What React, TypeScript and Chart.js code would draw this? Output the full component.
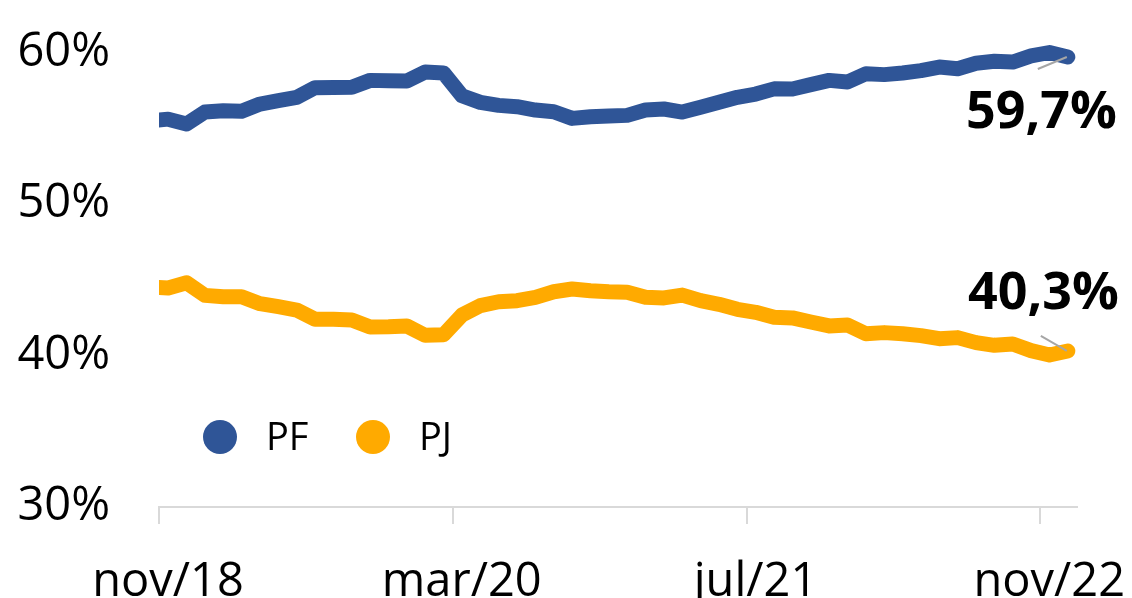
import React, { useEffect, useRef } from 'react';
import { Chart, registerables } from 'chart.js';

Chart.register(...registerables);

const months = [
  'oct/18', 'nov/18', 'dec/18',
  'jan/19', 'feb/19', 'mar/19', 'apr/19', 'may/19', 'jun/19', 'jul/19', 'aug/19', 'sep/19', 'oct/19', 'nov/19', 'dec/19',
  'jan/20', 'feb/20', 'mar/20', 'apr/20', 'may/20', 'jun/20', 'jul/20', 'aug/20', 'sep/20', 'oct/20', 'nov/20', 'dec/20',
  'jan/21', 'feb/21', 'mar/21', 'apr/21', 'may/21', 'jun/21', 'jul/21', 'aug/21', 'sep/21', 'oct/21', 'nov/21', 'dec/21',
  'jan/22', 'feb/22', 'mar/22', 'apr/22', 'may/22', 'jun/22', 'jul/22', 'aug/22', 'sep/22', 'oct/22', 'nov/22', 'dec/22',
];

const pfValues = [
  55.48, 55.6, 55.28,
  56.07, 56.16, 56.12, 56.6, 56.82, 57.04, 57.68, 57.69, 57.7, 58.16, 58.14, 58.12,
  58.71, 58.65, 57.15, 56.71, 56.51, 56.42, 56.2, 56.09, 55.65, 55.76, 55.81, 55.85,
  56.2, 56.27, 56.07, 56.38, 56.71, 57.04, 57.26, 57.6, 57.59, 57.88, 58.16, 58.05,
  58.6, 58.54, 58.65, 58.8, 59.04, 58.93, 59.29, 59.42, 59.37, 59.77, 60.0, 59.7,
];

const pjValues = [
  44.52, 44.46, 44.8,
  43.97, 43.88, 43.88, 43.42, 43.22, 43.0, 42.39, 42.4, 42.34, 41.88, 41.9, 41.95,
  41.33, 41.37, 42.67, 43.29, 43.55, 43.62, 43.84, 44.21, 44.39, 44.28, 44.21, 44.17,
  43.84, 43.8, 43.99, 43.62, 43.38, 43.05, 42.85, 42.52, 42.48, 42.21, 41.95, 42.01,
  41.44, 41.51, 41.44, 41.31, 41.11, 41.18, 40.85, 40.67, 40.76, 40.32, 40.03, 40.3,
];

const seriesNames = ['PF', 'PJ'];
const seriesColors = ['#2F5597', '#FFAA00'];
const xTickLabels = ['nov/18', 'mar/20', 'jul/21', 'nov/22'];
const lastValueLabels = ['59,7%', '40,3%'];

const FONT = "'Open Sans', 'Noto Sans', 'Liberation Sans', sans-serif";

// tick positions = start of the month band of each labelled month
const xTickValues = xTickLabels.map((lab) => months.indexOf(lab) - 0.5);

const overlayPlugin = {
  id: 'overlay',
  afterDatasetsDraw(chart: any) {
    const ctx = chart.ctx;
    const xs = chart.scales.x;
    const ys = chart.scales.y;
    const lastIdx = months.length - 1;
    const px = xs.getPixelForValue(lastIdx);
    const pyPF = ys.getPixelForValue(pfValues[lastIdx]);
    const pyPJ = ys.getPixelForValue(pjValues[lastIdx]);
    ctx.save();
    // leader lines
    ctx.strokeStyle = '#A6A6A6';
    ctx.lineWidth = 2;
    ctx.beginPath();
    ctx.moveTo(px - 30, pyPF + 12);
    ctx.lineTo(px - 1, pyPF);
    ctx.moveTo(px - 27, pyPJ - 15);
    ctx.lineTo(px - 1, pyPJ);
    ctx.stroke();
    // value labels
    ctx.fillStyle = '#000';
    ctx.font = `bold 52px ${FONT}`;
    ctx.textAlign = 'right';
    ctx.textBaseline = 'alphabetic';
    ctx.fillText(lastValueLabels[0], px + 49, pyPF + 71);
    ctx.fillText(lastValueLabels[1], px + 51, pyPJ - 42);
    // legend
    const legendY = 437;
    const items = [
      { cx: 220, tx: 266 },
      { cx: 373, tx: 419 },
    ];
    ctx.font = `38px ${FONT}`;
    ctx.textAlign = 'left';
    ctx.textBaseline = 'middle';
    items.forEach((it, i) => {
      ctx.fillStyle = seriesColors[i];
      ctx.beginPath();
      ctx.arc(it.cx, legendY, 17, 0, Math.PI * 2);
      ctx.fill();
      ctx.fillStyle = '#000';
      ctx.fillText(seriesNames[i], it.tx, legendY + 2);
    });
    ctx.restore();
  },
};

export default function App() {
  const canvasRef = useRef<HTMLCanvasElement | null>(null);

  useEffect(() => {
    if (!canvasRef.current) return;
    const mk = (vals: number[]) => vals.map((v, i) => ({ x: i, y: v }));
    const lineStyle = {
      borderWidth: 15,
      pointRadius: 0,
      tension: 0,
      borderJoinStyle: 'round',
      borderCapStyle: 'round',
      clip: { left: 0, top: false, right: false, bottom: false },
    };
    const chart = new Chart(canvasRef.current, {
      type: 'line',
      data: {
        datasets: [
          {
            label: seriesNames[0],
            data: mk(pfValues),
            borderColor: seriesColors[0],
            backgroundColor: seriesColors[0],
            ...lineStyle,
          } as any,
          {
            label: seriesNames[1],
            data: mk(pjValues),
            borderColor: seriesColors[1],
            backgroundColor: seriesColors[1],
            ...lineStyle,
          } as any,
        ],
      },
      options: {
        responsive: false,
        animation: false,
        layout: { padding: { top: 52.5, right: 55, left: 0, bottom: 0 } },
        plugins: {
          legend: { display: false },
          tooltip: { enabled: false },
        },
        scales: {
          x: {
            type: 'linear',
            min: 0.5,
            max: months.length - 0.5,
            afterBuildTicks: (scale: any) => {
              scale.ticks = xTickValues.map((v) => ({ value: v }));
            },
            afterFit: (scale: any) => {
              scale.height = 91;
              scale.paddingLeft = 0;
              scale.paddingRight = 0;
              scale.paddingTop = 0;
              scale.paddingBottom = 0;
            },
            grid: {
              display: true,
              drawOnChartArea: false,
              drawTicks: true,
              tickLength: 17,
              color: '#D9D9D9',
              lineWidth: 2,
            },
            border: { display: true, color: '#D9D9D9', width: 2 },
            ticks: {
              autoSkip: false,
              maxRotation: 0,
              labelOffset: 9,
              padding: 30,
              color: '#000',
              font: { family: FONT, size: 47 },
              callback: (_v: any, i: number) => xTickLabels[i],
            },
          },
          y: {
            type: 'linear',
            min: 30,
            max: 60,
            afterFit: (scale: any) => {
              scale.width = 159;
              scale.paddingLeft = 0;
              scale.paddingRight = 0;
              scale.paddingTop = 0;
              scale.paddingBottom = 0;
            },
            grid: { display: false },
            border: { display: false },
            ticks: {
              stepSize: 10,
              padding: 41,
              color: '#000',
              font: { family: FONT, size: 47 },
              callback: (v: any) => `${v}%`,
            },
          },
        },
      } as any,
      plugins: [overlayPlugin],
    });
    return () => chart.destroy();
  }, []);

  return (
    <div style={{ position: 'absolute', left: 0, top: 0, width: 1132, height: 598, background: '#fff' }}>
      <canvas ref={canvasRef} width={1132} height={598} style={{ display: 'block' }} />
    </div>
  );
}
